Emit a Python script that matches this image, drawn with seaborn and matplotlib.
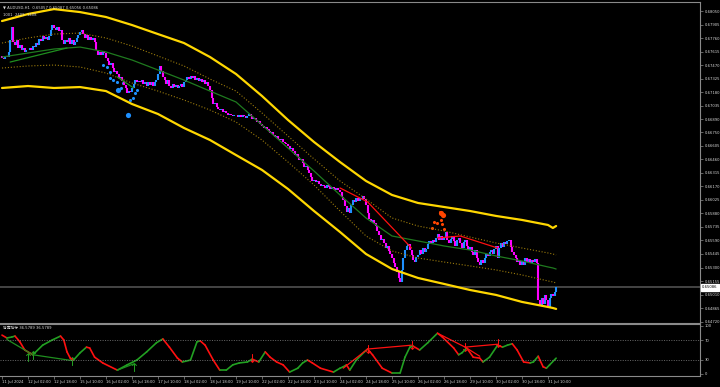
import matplotlib
matplotlib.use("Agg")
import matplotlib.pyplot as plt
import seaborn as sns
import numpy as np
import pandas as pd

# MT4 style dark chart
sns.set_theme(style="dark", rc={"axes.facecolor": "black", "figure.facecolor": "black"})
plt.rcParams['font.family'] = ['DejaVu Sans', 'Noto Sans CJK SC']

# ---- data ----
first_open = 0.6757
closes = [
    0.6755, 0.6754, 0.6757, 0.6756, 0.6761, 0.6774, 0.6788, 0.6772, 0.6769, 0.6774, 0.6765, 0.6769, 0.6763, 0.6765, 0.6761, 0.6763,
    0.6763, 0.6765, 0.6763, 0.6768, 0.6766, 0.6771, 0.6769, 0.6775, 0.6773, 0.6778, 0.6775, 0.6777, 0.6774, 0.6778, 0.6785, 0.6790,
    0.6787, 0.6785, 0.6788, 0.6784, 0.6785, 0.6774, 0.6770, 0.6774, 0.6772, 0.6776, 0.6770, 0.6774, 0.6769, 0.6772, 0.6776, 0.6779,
    0.6782, 0.6785, 0.6780, 0.6776, 0.6779, 0.6774, 0.6777, 0.6774, 0.6776, 0.6772, 0.6763, 0.6758, 0.6761, 0.6758, 0.6762, 0.6760,
    0.6755, 0.6751, 0.6747, 0.6749, 0.6744, 0.6740, 0.6741, 0.6737, 0.6733, 0.6734, 0.6730, 0.6726, 0.6722, 0.6717, 0.6719, 0.6718,
    0.6722, 0.6727, 0.6731, 0.6729, 0.6730, 0.6729, 0.6731, 0.6727, 0.6729, 0.6725, 0.6729, 0.6726, 0.6729, 0.6725, 0.6729, 0.6731,
    0.6737, 0.6746, 0.6741, 0.6734, 0.6731, 0.6727, 0.6731, 0.6725, 0.6723, 0.6727, 0.6724, 0.6726, 0.6723, 0.6725, 0.6727, 0.6724,
    0.6729, 0.6731, 0.6734, 0.6732, 0.6735, 0.6733, 0.6735, 0.6731, 0.6733, 0.6730, 0.6732, 0.6729, 0.6731, 0.6727, 0.6729, 0.6725,
    0.6720, 0.6712, 0.6705, 0.6706, 0.6702, 0.6700, 0.6699, 0.6700, 0.6697, 0.6698, 0.6696, 0.6694, 0.6695, 0.6693, 0.6692, 0.6694,
    0.6693, 0.6691, 0.6693, 0.6691, 0.6694, 0.6692, 0.6690, 0.6692, 0.6695, 0.6692, 0.6689, 0.6690, 0.6688, 0.6686, 0.6687, 0.6684,
    0.6682, 0.6680, 0.6681, 0.6678, 0.6676, 0.6674, 0.6675, 0.6672, 0.6670, 0.6671, 0.6668, 0.6667, 0.6668, 0.6665, 0.6663, 0.6662,
    0.6660, 0.6657, 0.6658, 0.6655, 0.6651, 0.6652, 0.6648, 0.6645, 0.6646, 0.6642, 0.6638, 0.6639, 0.6635, 0.6631, 0.6627, 0.6623,
    0.6624, 0.6622, 0.6623, 0.6620, 0.6617, 0.6619, 0.6617, 0.6615, 0.6618, 0.6616, 0.6614, 0.6616, 0.6615, 0.6613, 0.6615, 0.6613,
    0.6611, 0.6606, 0.6602, 0.6596, 0.6589, 0.6594, 0.6588, 0.6597, 0.6602, 0.6600, 0.6604, 0.6601, 0.6605, 0.6603, 0.6607, 0.6603,
    0.6597, 0.6588, 0.6582, 0.6579, 0.6581, 0.6578, 0.6574, 0.6569, 0.6565, 0.6560, 0.6561, 0.6556, 0.6551, 0.6553, 0.6548, 0.6544,
    0.6540, 0.6535, 0.6531, 0.6525, 0.6519, 0.6514, 0.6527, 0.6540, 0.6549, 0.6553, 0.6555, 0.6549, 0.6543, 0.6538, 0.6536, 0.6541,
    0.6543, 0.6549, 0.6545, 0.6551, 0.6547, 0.6550, 0.6555, 0.6558, 0.6556, 0.6560, 0.6557, 0.6562, 0.6566, 0.6560, 0.6564, 0.6559,
    0.6562, 0.6568, 0.6560, 0.6556, 0.6561, 0.6564, 0.6558, 0.6553, 0.6559, 0.6562, 0.6556, 0.6551, 0.6557, 0.6560, 0.6553, 0.6549,
    0.6552, 0.6547, 0.6543, 0.6549, 0.6540, 0.6536, 0.6533, 0.6538, 0.6535, 0.6540, 0.6544, 0.6542, 0.6547, 0.6549, 0.6545, 0.6550,
    0.6553, 0.6540, 0.6551, 0.6556, 0.6552, 0.6557, 0.6555, 0.6558, 0.6559, 0.6552, 0.6547, 0.6543, 0.6540, 0.6536, 0.6538, 0.6533,
    0.6537, 0.6533, 0.6540, 0.6536, 0.6539, 0.6535, 0.6538, 0.6536, 0.6539, 0.6535, 0.6495, 0.6490, 0.6497, 0.6491, 0.6500, 0.6495,
    0.6488, 0.6497, 0.6502, 0.6499, 0.6504, 0.65086,
]
last_price = 0.65086

# channel lines, sampled every 16 bars
band_bars = [0, 16, 32, 48, 64, 80, 96, 112, 128, 144, 160, 176, 192, 208, 224, 240,
             256, 272, 288, 304, 320, 336, 339, 341]
upper_band = [0.67943, 0.68018, 0.68071, 0.68039, 0.67986, 0.67900, 0.67803, 0.67707, 0.67557, 0.67375, 0.67139, 0.66882,
              0.66646, 0.66431, 0.66228, 0.66078, 0.65992, 0.65949, 0.65906, 0.65853, 0.65810, 0.65756, 0.65724, 0.65745]
upper_inner = [0.67707, 0.67761, 0.67803, 0.67814, 0.67761, 0.67675, 0.67568, 0.67461, 0.67321, 0.67192, 0.66957, 0.66710,
               0.66464, 0.66228, 0.66035, 0.65831, 0.65745, 0.65692, 0.65627, 0.65563, 0.65509, 0.65456, 0.65445, 0.65434]
middle_line = [0.67557, 0.67600, 0.67643, 0.67664, 0.67611, 0.67525, 0.67418, 0.67310, 0.67192, 0.67075, 0.66828, 0.66581,
               0.66335, 0.66078, 0.65831, 0.65638, 0.65585, 0.65531, 0.65488, 0.65424, 0.65370, 0.65306, 0.65295, 0.65284]
lower_inner = [0.67439, 0.67461, 0.67471, 0.67450, 0.67385, 0.67278, 0.67192, 0.67096, 0.66989, 0.66860, 0.66667, 0.66431,
               0.66185, 0.65906, 0.65638, 0.65477, 0.65402, 0.65359, 0.65317, 0.65274, 0.65220, 0.65156, 0.65145, 0.65134]
lower_band = [0.67225, 0.67246, 0.67225, 0.67235, 0.67192, 0.67053, 0.66946, 0.66796, 0.66667, 0.66506, 0.66346, 0.66142,
              0.65906, 0.65681, 0.65445, 0.65284, 0.65188, 0.65124, 0.65059, 0.65006, 0.64931, 0.64877, 0.64866, 0.64856]

# trend lines on price
red_tl1_bars = [208, 225, 252]
red_tl1_vals = [0.66153, 0.66003, 0.65509]
red_tl2_bars = [268, 282, 305]
red_tl2_vals = [0.65617, 0.65638, 0.65509]
green_tl_bars = [5, 40]
green_tl_vals = [0.67503, 0.67654]
green_tl2_bars = [71, 81]
green_tl2_vals = [0.67343, 0.67225]

# signal dots
blue_dot_bars = [62.2, 64.6, 66.5, 66.5, 68.3, 70.8, 73.2, 74.5, 78.8, 80.6, 81.8, 83.1]
blue_dot_vals = [0.67471, 0.67450, 0.67396, 0.67332, 0.67310, 0.67289, 0.67225, 0.67278, 0.67096, 0.67118, 0.67171, 0.67203]
blue_big_bars = [71.4, 77.5]
blue_big_vals = [0.67203, 0.66935]
orange_dot_bars = [264.6, 265.8, 267.7, 269.5, 270.2, 270.8, 271.4, 272.0]
orange_dot_vals = [0.65724, 0.65788, 0.65777, 0.65895, 0.65810, 0.65767, 0.65863, 0.65713]
orange_big_bars = [270.2, 271.4]
orange_big_vals = [0.65885, 0.65863]

# oscillator
osc_bars = [0, 3, 6, 8, 11, 14, 17, 19, 25, 31, 36, 38, 40, 42, 44, 48, 52, 54, 57, 62, 71, 77, 83, 89, 95, 99,
            103, 108, 111, 116, 120, 122, 125, 130, 134, 138, 142, 146, 151, 154, 158, 162, 165, 169, 173, 177,
            182, 185, 188, 191, 196, 204, 208, 210, 212, 214, 218, 223, 225, 228, 234, 240, 245, 248, 251, 253,
            257, 262, 268, 271, 278, 281, 283, 286, 290, 294, 296, 300, 305, 308, 311, 314, 317, 321, 325, 327,
            330, 331, 333, 335, 337, 341]
osc_vals = [81, 75, 77, 79, 67, 50, 44, 40, 60, 71, 79, 71, 46, 33, 29, 44, 56, 54, 35, 23, 8, 19, 29, 46, 65, 73,
            56, 33, 25, 29, 67, 69, 60, 29, 8, 8, 19, 23, 25, 31, 25, 46, 35, 25, 19, 4,
            12, 23, 29, 23, 12, 4, 12, 15, 19, 8, 29, 46, 52, 40, 12, 2, 2, 35, 56, 58,
            50, 65, 85, 77, 54, 40, 44, 54, 35, 33, 25, 35, 60, 56, 60, 63, 50, 25, 23, 25,
            37, 29, 15, 12, 19, 33]
osc_title_val = "36.5789"
up_arrow_bars = [16, 19, 43, 81]
up_arrow_vals = [35, 40, 27, 15]
down_arrow_bars = [154, 225, 252, 285, 305]
down_arrow_vals = [33, 52, 60, 56, 65]
osc_green_tl = [([3, 19], [72, 40]), ([19, 43], [40, 28]), ([71, 81], [8, 21])]
osc_red_tl = [([210, 225], [12, 52]), ([225, 252], [52, 60]), ([268, 285], [85, 56]),
              ([285, 305], [56, 62]), ([285, 294], [56, 37])]

price_ticks = ["0.68050", "0.67905", "0.67760", "0.67615", "0.67470", "0.67325", "0.67180", "0.67035",
               "0.66890", "0.66750", "0.66605", "0.66460", "0.66315", "0.66170", "0.66025", "0.65880",
               "0.65735", "0.65590", "0.65445", "0.65300", "0.65155", "0.65010", "0.64865", "0.64720"]
osc_ticks = [0, 30, 70, 100]
date_tick_bars = [0, 16, 32, 48, 64, 80, 96, 112, 128, 144, 160, 176, 192, 208, 224, 240, 256, 272, 288, 304, 320, 336]
date_labels = ["11 Jul 2024", "12 Jul 02:00", "12 Jul 18:00", "15 Jul 10:00", "16 Jul 02:00", "16 Jul 18:00",
               "17 Jul 10:00", "18 Jul 02:00", "18 Jul 18:00", "19 Jul 10:00", "22 Jul 02:00", "22 Jul 18:00",
               "23 Jul 10:00", "24 Jul 02:00", "24 Jul 18:00", "25 Jul 10:00", "26 Jul 02:00", "26 Jul 18:00",
               "29 Jul 10:00", "30 Jul 02:00", "30 Jul 18:00", "31 Jul 10:00"]

# ---- figure ----
W, H = 720, 387
fig = plt.figure(figsize=(W / 100, H / 100), dpi=100)
ax = fig.add_axes([0, 1 - 323 / H, 700 / W, 321 / H])
ax2 = fig.add_axes([0, 1 - 376 / H, 700 / W, 52.5 / H], sharex=ax)

GRAY = '#8a8a8a'
TXT = '#d8d8d8'
FS = 2.7

# candles (open = previous close)
bars = np.arange(len(closes))
opens = [first_open] + closes[:-1]
cols = ['#1E90FF' if c >= o else '#FF00FF' for o, c in zip(opens, closes)]
ax.vlines(bars, np.minimum(opens, closes), np.maximum(opens, closes), colors=cols, linewidth=1.5)

bands = pd.DataFrame({'bar': band_bars, 'upper': upper_band, 'uin': upper_inner,
                      'mid': middle_line, 'lin': lower_inner, 'lower': lower_band})
sns.lineplot(data=bands, x='bar', y='upper', ax=ax, color='#FFD700', linewidth=1.6)
sns.lineplot(data=bands, x='bar', y='lower', ax=ax, color='#FFD700', linewidth=1.6)
sns.lineplot(data=bands, x='bar', y='uin', ax=ax, color='#9c7c0c', linewidth=0.8, linestyle=':')
sns.lineplot(data=bands, x='bar', y='lin', ax=ax, color='#9c7c0c', linewidth=0.8, linestyle=':')
sns.lineplot(data=bands, x='bar', y='mid', ax=ax, color='#1f7a1f', linewidth=0.9)

ax.plot(red_tl1_bars, red_tl1_vals, color='#FF1010', linewidth=0.9)
ax.plot(red_tl2_bars, red_tl2_vals, color='#FF1010', linewidth=0.9)
ax.plot(green_tl_bars, green_tl_vals, color='#1f8f1f', linewidth=0.9)
ax.plot(green_tl2_bars, green_tl2_vals, color='#1f8f1f', linewidth=0.9)

sns.scatterplot(x=blue_dot_bars, y=blue_dot_vals, ax=ax, color='#1E90FF', s=5, linewidth=0)
sns.scatterplot(x=blue_big_bars, y=blue_big_vals, ax=ax, color='#1E90FF', s=14, linewidth=0)
sns.scatterplot(x=orange_dot_bars, y=orange_dot_vals, ax=ax, color='#FF4500', s=5, linewidth=0)
sns.scatterplot(x=orange_big_bars, y=orange_big_vals, ax=ax, color='#FF4500', s=14, linewidth=0)

ax.axhline(last_price, color='#4a4a4a', linewidth=1.3, zorder=0)

ax.set_xlim(-2 / 1.625, 698 / 1.625)
ax.set_ylim(0.64705, 0.68147)
ax.yaxis.tick_right()
ax.set_yticks([float(t) for t in price_ticks])
ax.set_yticklabels(price_ticks)
ax.tick_params(axis='y', colors=TXT, labelsize=FS, length=2, width=0.5, pad=1.2)
ax.tick_params(axis='y', color=GRAY)
ax.tick_params(axis='x', which='both', bottom=False, labelbottom=False)
ax.set_xlabel('')
ax.set_ylabel('')

ax.text(1.003, last_price, f"{last_price:.5f}", transform=ax.get_yaxis_transform(), ha='left', va='center',
        fontsize=FS, color='black', bbox=dict(boxstyle='square,pad=0.3', facecolor='white', edgecolor='white'))

ax.text(0.004, 0.990, "\u25bc AUDUSD,H1  0.65057 0.65087 0.65056 0.65086", transform=ax.transAxes,
        fontsize=FS, color=TXT, va='top', ha='left')
ax.text(0.004, 0.966, "1001  2409  1408", transform=ax.transAxes,
        fontsize=FS, color=TXT, va='top', ha='left')

# oscillator
for i in range(len(osc_bars) - 1):
    c = '#22a022' if osc_vals[i + 1] >= osc_vals[i] else '#FF1010'
    ax2.plot(osc_bars[i:i + 2], osc_vals[i:i + 2], color=c, linewidth=1.2, solid_capstyle='round')
for xs, ys in osc_green_tl:
    ax2.plot(xs, ys, color='#1f8f1f', linewidth=0.9)
for xs, ys in osc_red_tl:
    ax2.plot(xs, ys, color='#FF1010', linewidth=0.9)
sns.scatterplot(x=up_arrow_bars, y=up_arrow_vals, ax=ax2, color='#22a022', marker=r'$\uparrow$', s=40, linewidth=0)
sns.scatterplot(x=down_arrow_bars, y=down_arrow_vals, ax=ax2, color='#FF1010', marker=r'$\downarrow$', s=40, linewidth=0)

for lvl in (30, 70):
    ax2.axhline(lvl, color=GRAY, linewidth=0.5, linestyle=(0, (1.5, 2)))

ax2.set_ylim(-4.2, 105.2)
ax2.yaxis.tick_right()
ax2.set_yticks(osc_ticks)
ax2.set_yticklabels([str(t) for t in osc_ticks])
ax2.tick_params(axis='y', colors=TXT, labelsize=FS, length=2, width=0.5, pad=1.2)
ax2.tick_params(axis='y', color=GRAY)
ax2.set_xticks(date_tick_bars)
ax2.set_xticklabels(date_labels)
ax2.tick_params(axis='x', colors=TXT, labelsize=FS, length=2, width=0.5, pad=1.2, bottom=True)
ax2.tick_params(axis='x', color=GRAY)
for lab in ax2.get_xticklabels():
    lab.set_ha('left')
ax2.set_xlabel('')
ax2.set_ylabel('')
ax2.text(0.004, 0.96, f"背离指标 {osc_title_val} {osc_title_val}", transform=ax2.transAxes,
         fontsize=FS, color=TXT, va='top', ha='left')

for a in (ax, ax2):
    a.grid(False)
    a.spines['left'].set_visible(False)
    for s in ('top', 'right', 'bottom'):
        a.spines[s].set_color(GRAY)
        a.spines[s].set_linewidth(0.8)

fig.savefig('out.png', dpi=100, facecolor='black')
